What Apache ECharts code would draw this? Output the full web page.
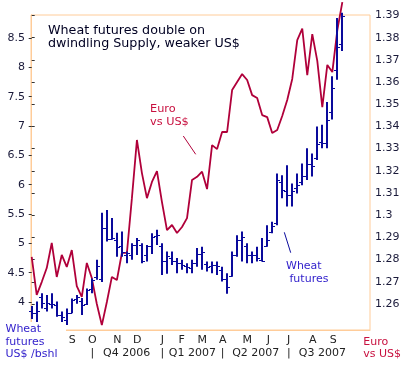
<!DOCTYPE html>
<html><head><meta charset="utf-8">
<script src="https://cdn.jsdelivr.net/npm/echarts@6/dist/echarts.min.js"></script>
<style>html,body{margin:0;padding:0;background:#fff}#c{width:411px;height:365px}</style>
</head><body><div id="c"></div>
<script>
// Weekly wheat futures bars (US$/bushel)
var wheatOpen = [3.85,3.81,4.09,3.90,3.97,3.95,3.78,3.70,3.82,4.05,
                 4.02,3.97,4.22,4.42,4.40,5.26,5.08,5.05,4.95,4.80,
                 4.80,4.97,4.98,4.80,4.95,5.12,4.95,4.70,4.75,4.70,
                 4.66,4.62,4.58,4.66,4.82,4.65,4.62,4.63,4.55,4.40,
                 4.45,4.80,5.05,4.95,4.80,4.80,4.72,4.95,5.20,5.35,
                 6.05,5.90,5.82,5.95,6.05,6.15,6.35,6.45,6.72,6.71,
                 7.24,7.95,8.40];
var wheatClose = [3.82,3.84,3.98,3.98,3.96,3.78,3.74,3.81,4.04,4.09,
                  3.95,4.20,4.38,4.62,5.26,5.08,5.09,4.94,4.85,4.83,
                  4.97,5.05,4.70,4.95,5.10,5.14,4.70,4.78,4.70,4.66,
                  4.63,4.60,4.66,4.82,4.85,4.60,4.63,4.62,4.40,4.25,
                  4.80,5.05,5.10,4.80,4.80,4.75,4.70,5.05,5.30,6.08,
                  5.91,5.82,5.90,6.00,6.14,6.35,6.31,6.70,6.71,7.10,
                  7.64,8.35,8.87];
var wheatLow = [3.71,3.66,3.89,3.84,3.89,3.75,3.66,3.61,3.81,3.97,
                3.78,3.95,4.15,4.38,4.34,5.03,5.06,4.77,4.77,4.66,
                4.72,4.80,4.66,4.69,4.82,4.97,4.46,4.48,4.63,4.49,
                4.55,4.49,4.49,4.60,4.55,4.52,4.49,4.46,4.35,4.14,
                4.43,4.77,4.69,4.66,4.66,4.69,4.69,4.94,5.17,5.31,
                5.77,5.63,5.63,5.85,5.99,6.08,6.14,6.42,6.62,6.62,
                7.11,7.79,8.28];
var wheatHigh = [3.93,4.01,4.15,4.12,4.15,4.01,3.84,3.89,4.06,4.12,
                 4.07,4.23,4.40,4.72,5.52,5.57,5.43,5.18,5.20,4.86,
                 5.00,5.09,5.00,4.97,5.17,5.23,5.00,4.86,4.86,4.75,
                 4.72,4.66,4.72,4.92,4.94,4.69,4.69,4.69,4.60,4.49,
                 4.86,5.14,5.20,5.00,4.86,4.94,5.09,5.31,5.37,6.19,
                 6.16,6.33,6.02,6.19,6.36,6.62,6.53,6.99,7.02,7.41,
                 7.85,8.84,8.93];
// Weekly Euro vs US$
var euro = [1.2812,1.2641,1.2699,1.2762,1.2875,1.2722,1.2821,1.2767,1.2843,1.2681,
            1.2632,1.2785,1.2717,1.2600,1.2505,1.2609,1.2722,1.2708,1.2830,1.2830,
            1.3077,1.3339,1.3190,1.3077,1.3150,1.3199,1.3059,1.2933,1.2956,1.2920,
            1.2947,1.2987,1.3159,1.3173,1.3196,1.3118,1.3316,1.3298,1.3375,1.3375,
            1.3564,1.3600,1.3636,1.3609,1.3541,1.3528,1.3451,1.3442,1.3370,1.3384,
            1.3447,1.3519,1.3614,1.3789,1.3841,1.3631,1.3816,1.3695,1.3487,1.3677,
            1.3645,1.3834,1.3960];
// Axis labels
var leftTicks = [4,4.5,5,5.5,6,6.5,7,7.5,8,8.5];
var rightTicks = [1.26,1.27,1.28,1.29,1.3,1.31,1.32,1.33,1.34,1.35,1.36,1.37,1.38,1.39];
var monthLabels = ['S','O','N','D','J','F','M','A','M','J','J','A','S'];
var monthPos = [8.10,12.10,17.09,21.08,26.07,29.94,34.05,38.12,43.03,47.23,51.30,56.09,60.20];
var quarterLabels = ['Q4 2006','Q1 2007','Q2 2007','Q3 2007'];
var quarterPos = [18.96,32.06,44.71,58.0];
var quarterSepPos = [12.10,26.07,38.12,51.30];

var FONT = 'DejaVu Sans';
var ORANGE = '#FFCC99';
var RED = '#B0003A';
var BLUE = '#0A0A9C';

var wheatData = wheatOpen.map(function(o,i){ return [i, o, wheatClose[i], wheatLow[i], wheatHigh[i]]; });
var euroData = euro.map(function(v,i){ return [i, v]; });

function findIdx(arr, v){ for (var i=0;i<arr.length;i++){ if (Math.abs(arr[i]-v)<1e-6) return i; } return -1; }

var chart = echarts.init(document.getElementById('c'), null, {renderer:'canvas'});
var xMin = -0.14, xMax = 67.52;
chart.setOption({
  animation: false,
  textStyle: {fontFamily: FONT},
  title: {
    text: 'Wheat futures double on\ndwindling Supply, weaker US$',
    left: 48, top: 24, padding: 0,
    textStyle: {fontSize: 12.7, fontWeight: 'normal', color: '#000022', lineHeight: 13.4, fontFamily: FONT}
  },
  grid: {left: 31, right: 41, top: 15, bottom: 35, show: true, borderColor: ORANGE, borderWidth: 1, backgroundColor: 'transparent'},
  xAxis: [{
    type: 'value', min: xMin, max: xMax, position: 'bottom',
    axisLine: {show: true, lineStyle: {color: ORANGE}},
    axisTick: {show: false}, splitLine: {show: false},
    axisLabel: {customValues: monthPos, margin: 5, fontSize: 11, color: '#222', fontFamily: FONT,
      formatter: function(v){ var k = findIdx(monthPos, v); return k>=0 ? monthLabels[k] : ''; }}
  },{
    type: 'value', min: xMin, max: xMax, position: 'bottom', offset: 12.6,
    axisLine: {show: false}, axisTick: {show: false}, splitLine: {show: false},
    axisLabel: {customValues: quarterSepPos.concat(quarterPos), margin: 5, fontSize: 11, color: '#222', fontFamily: FONT,
      formatter: function(v){ var k = findIdx(quarterPos, v); if (k>=0) return quarterLabels[k]; return findIdx(quarterSepPos, v)>=0 ? '|' : ''; }}
  }],
  yAxis: [{
    type: 'value', min: 3.523, max: 8.892, position: 'left',
    axisLine: {show: true, lineStyle: {color: ORANGE}},
    axisTick: {show: true, length: 3, customValues: leftTicks, lineStyle: {color: '#333'}},
    splitLine: {show: false},
    axisLabel: {customValues: leftTicks, margin: 6, fontSize: 11, color: '#1a1a3a', fontFamily: FONT,
      formatter: function(v){ return String(v); }}
  },{
    type: 'value', min: 1.2483, max: 1.3902, position: 'right',
    axisLine: {show: true, lineStyle: {color: ORANGE}},
    axisTick: {show: true, length: 3, customValues: rightTicks, lineStyle: {color: '#333'}},
    splitLine: {show: false},
    axisLabel: {customValues: rightTicks, margin: 5, fontSize: 11, color: '#1a1a3a', fontFamily: FONT,
      formatter: function(v){ return String(v); }}
  }],
  series: [{
    type: 'line', name: 'Euro', xAxisIndex: 0, yAxisIndex: 1, data: euroData,
    showSymbol: false, symbol: 'none', clip: false,
    lineStyle: {color: RED, width: 1.8}, z: 3
  },{
    type: 'custom', name: 'Wheat', xAxisIndex: 0, yAxisIndex: 0, data: wheatData, clip: false,
    encode: {x: 0, y: [1,2,3,4]}, z: 4,
    renderItem: function(params, api){
      var x = api.value(0);
      var pH = api.coord([x, api.value(4)]);
      var pL = api.coord([x, api.value(3)]);
      var pO = api.coord([x, api.value(1)]);
      var pC = api.coord([x, api.value(2)]);
      var xx = Math.round(pH[0]) + 0.0;
      return {type: 'group', children: [
        {type: 'line', shape: {x1: xx, y1: pH[1], x2: xx, y2: pL[1]}, style: {stroke: BLUE, lineWidth: 2}},
        {type: 'line', shape: {x1: xx-3, y1: Math.round(pO[1])+0.5, x2: xx, y2: Math.round(pO[1])+0.5}, style: {stroke: BLUE, lineWidth: 1}},
        {type: 'line', shape: {x1: xx, y1: Math.round(pC[1])+0.5, x2: xx+3, y2: Math.round(pC[1])+0.5}, style: {stroke: BLUE, lineWidth: 1}}
      ]};
    }
  }],
  graphic: [
    {type: 'rect', left: 0, top: 322, shape: {width: 66, height: 43}, style: {fill: '#fff'}, z: 50},
    {type: 'text', left: 5.5, top: 322.6, z: 51, style: {text: 'Wheat\nfutures\nUS$ /bshl', fill: '#3322CC', font: '11px "DejaVu Sans"', lineHeight: 12.7}},
    {type: 'text', left: 363.3, top: 335.3, z: 51, style: {text: 'Euro\nvs US$', fill: '#C8103F', font: '11px "DejaVu Sans"', lineHeight: 12.7}},
    {type: 'text', left: 150, top: 102.4, z: 51, style: {text: 'Euro\nvs US$', fill: '#C8103F', font: '11.3px "DejaVu Sans"', lineHeight: 13.3}},
    {type: 'line', z: 51, shape: {x1: 183.3, y1: 136, x2: 195.7, y2: 154.3}, style: {stroke: RED, lineWidth: 1}},
    {type: 'text', left: 286, top: 259, z: 51, style: {text: 'Wheat\n futures', fill: '#3322CC', font: '11px "DejaVu Sans"', lineHeight: 13.3}},
    {type: 'line', z: 51, shape: {x1: 284.3, y1: 232.3, x2: 290.7, y2: 252.7}, style: {stroke: BLUE, lineWidth: 1}}
  ]
});
</script>
</body></html>
